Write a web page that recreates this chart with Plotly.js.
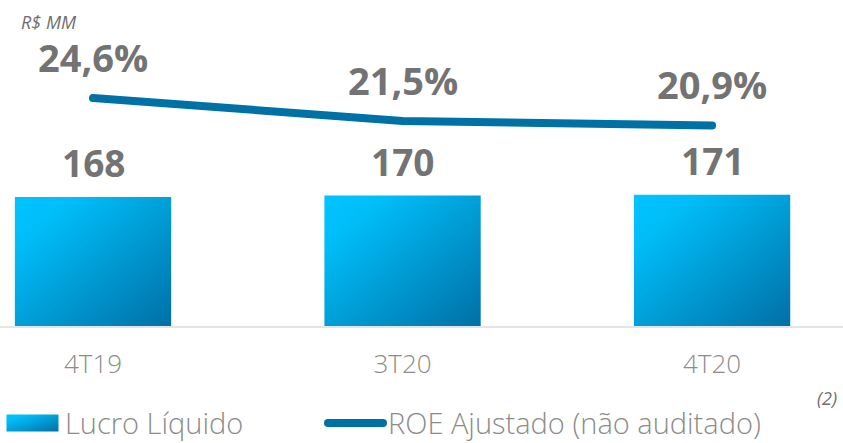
<!DOCTYPE html>
<html>
<head>
<meta charset="utf-8">
<script src="https://cdn.plot.ly/plotly-3.0.1.min.js"></script>
<style>
html,body{margin:0;padding:0;background:#fff;}
#chart{width:843px;height:443px;}
.scatterlayer path.js-line{stroke-linecap:round;}
.legendlines path{stroke-linecap:round;}
.barlayer .point path{fill:url(#barGrad) !important;}
.legendpoints path{fill:url(#barGrad) !important;}
</style>
</head>
<body>
<svg width="0" height="0" style="position:absolute">
  <defs>
    <linearGradient id="barGrad" x1="0" y1="0" x2="1" y2="1">
      <stop offset="0" stop-color="#00c4ff"/>
      <stop offset="0.2" stop-color="#00bdf8"/>
      <stop offset="1" stop-color="#0070a6"/>
    </linearGradient>
  </defs>
</svg>
<div id="chart"></div>
<script>
var categories = ["4T19", "3T20", "4T20"];
var lucroLiquido = [168, 170, 171];
var roeAjustado = [24.6, 21.5, 20.9];
var lucroLabels = ["168", "170", "171"];
var roeLabels = ["24,6%", "21,5%", "20,9%"];

var FONT = "Open Sans, Noto Sans, sans-serif";
var GRAY = "#737373";
var LIGHTGRAY = "#8c8c8c";

var traces = [
  {
    type: "bar",
    name: "Lucro Líquido",
    x: categories,
    y: lucroLiquido,
    width: 0.505,
    marker: {color: "#00a3da"},
    legend: "legend",
    hoverinfo: "skip"
  },
  {
    type: "scatter",
    mode: "lines",
    name: "ROE Ajustado (não auditado)",
    x: categories,
    y: roeAjustado,
    yaxis: "y2",
    line: {color: "#0071a5", width: 8},
    legend: "legend2",
    hoverinfo: "skip"
  }
];

var annotations = [];
categories.forEach(function (c, i) {
  annotations.push({
    x: c, y: lucroLiquido[i], xref: "x", yref: "y",
    text: lucroLabels[i], showarrow: false, yanchor: "middle", yshift: 34,
    font: {family: FONT, size: 37, color: GRAY, weight: 700}
  });
  annotations.push({
    x: c, y: roeAjustado[i], xref: "x", yref: "y2",
    text: roeLabels[i], showarrow: false, yanchor: "middle", yshift: 41,
    font: {family: FONT, size: 38, color: GRAY, weight: 700}
  });
});
annotations.push({
  x: 19 / 843, y: 0.9325, xref: "paper", yref: "paper", xanchor: "left", yanchor: "middle",
  text: "<i>R$ MM</i>", showarrow: false,
  font: {family: FONT, size: 18, color: "#6e6e6e"}
});
annotations.push({
  x: 0.995, y: -0.221, xref: "paper", yref: "paper", xanchor: "right", yanchor: "middle",
  text: "<i>(2)</i>", showarrow: false,
  font: {family: FONT, size: 18, color: "#6e6e6e"}
});

var legendFont = {family: FONT, size: 29, color: LIGHTGRAY, weight: 300};

var layout = {
  width: 843,
  height: 443,
  margin: {l: 0, r: 0, t: 0, b: 117, autoexpand: false},
  paper_bgcolor: "#ffffff",
  plot_bgcolor: "#ffffff",
  showlegend: true,
  legend: {
    orientation: "h",
    x: 0.0, xanchor: "left",
    y: -0.298, yanchor: "middle",
    font: legendFont,
    itemwidth: 55,
    bgcolor: "rgba(0,0,0,0)"
  },
  legend2: {
    orientation: "h",
    x: 323 / 843, xanchor: "left",
    y: -0.298, yanchor: "middle",
    font: legendFont,
    itemwidth: 55,
    bgcolor: "rgba(0,0,0,0)"
  },
  xaxis: {
    type: "category",
    range: [-0.3005, 2.423],
    showgrid: false,
    zeroline: false,
    showline: true,
    linecolor: "#e4e4e4",
    linewidth: 2,
    ticks: "",
    ticklabelstandoff: 14,
    tickfont: {family: FONT, size: 26, color: LIGHTGRAY, weight: 300},
    fixedrange: true
  },
  yaxis: {
    range: [0, 424.5],
    visible: false,
    showgrid: false,
    zeroline: false,
    fixedrange: true
  },
  yaxis2: {
    range: [-6.13, 37.8],
    overlaying: "y",
    side: "right",
    visible: false,
    showgrid: false,
    zeroline: false,
    fixedrange: true
  },
  annotations: annotations
};

function widenSwatch() {
  var gd = document.getElementById("chart");
  gd.querySelectorAll(".legendpoints path").forEach(function (p) {
    var d = p.getAttribute("d") || "";
    if (/^M6,6H-6V-6H6Z$/.test(d.replace(/\s/g, ""))) {
      p.setAttribute("d", "M26,8.5H-26V-8.5H26Z");
    }
  });
}

Plotly.newPlot("chart", traces, layout, {staticPlot: true, displayModeBar: false});
widenSwatch();
document.getElementById("chart").on && document.getElementById("chart").on("plotly_afterplot", widenSwatch);
setTimeout(widenSwatch, 50);
</script>
</body>
</html>
